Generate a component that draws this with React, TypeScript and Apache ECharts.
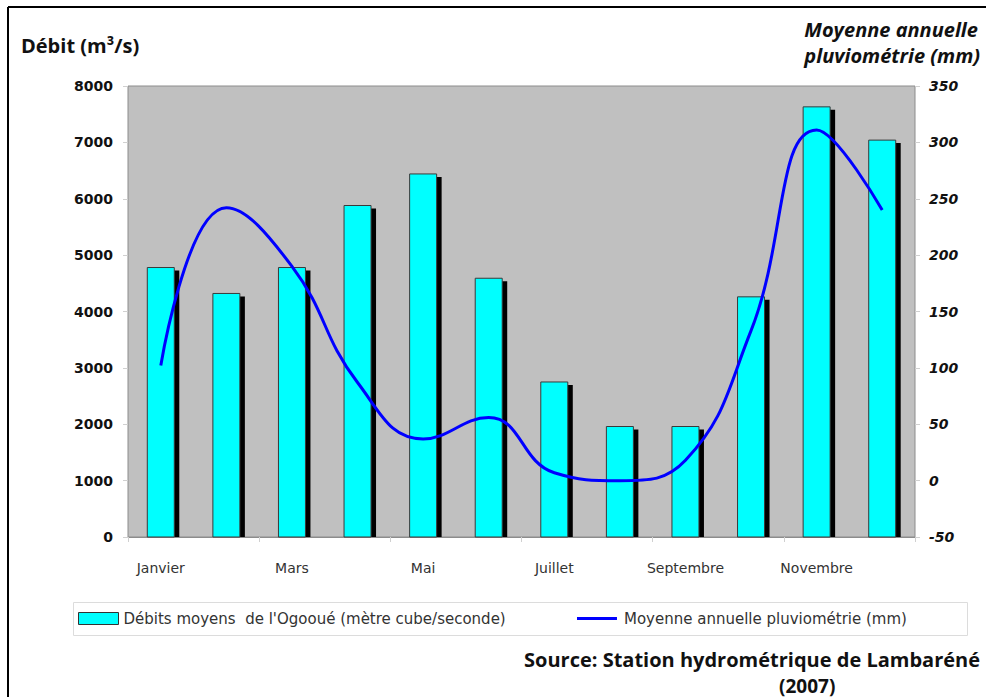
import React, { useEffect, useRef } from "react";
import * as echarts from "echarts";

const months = ["Janvier", "Février", "Mars", "Avril", "Mai", "Juin", "Juillet", "Août", "Septembre", "Octobre", "Novembre", "Décembre"];
const debits = [4780, 4320, 4780, 5880, 6440, 4590, 2750, 1960, 1960, 4260, 7630, 7040];
const pluvio = [102, 242, 190, 87, 37, 56, 7, 0, 18, 133, 311, 240];
const barName = "Débits moyens  de l'Ogooué (mètre cube/seconde)";
const lineName = "Moyenne annuelle pluviométrie (mm)";

export default function App() {
  const ref = useRef<HTMLDivElement>(null);
  useEffect(() => {
    const chart = echarts.init(ref.current!, undefined, { renderer: "svg" });
    const legendText = { fontFamily: "'DejaVu Sans'", fontSize: 15, color: "#333" };
    chart.setOption({
      animation: false,
      backgroundColor: "#ffffff",
      graphic: [
        { type: "line", shape: { x1: 8, y1: 7, x2: 986, y2: 7 }, style: { stroke: "#000", lineWidth: 2 } },
        { type: "line", shape: { x1: 8, y1: 7, x2: 8, y2: 697 }, style: { stroke: "#000", lineWidth: 2 } },
        { type: "rect", shape: { x: 73.5, y: 602.5, width: 894, height: 33 }, style: { fill: "#fff", stroke: "#dcdcdc", lineWidth: 1 }, z: -1 },
        { type: "text", left: 21, top: 35, style: { text: "Débit (m³/s)", font: "bold 20px 'Open Sans'", fill: "#111" } },
        { type: "text", right: 6, top: 16, style: { text: "Moyenne annuelle\npluviométrie (mm)", font: "italic bold 20px 'Open Sans'", fill: "#111", align: "right", lineHeight: 26 } },
        { type: "text", right: 6, top: 649, style: { text: "Source: Station hydrométrique de Lambaréné", font: "bold 20px 'Open Sans'", fill: "#111" } },
        { type: "text", left: 779, top: 676, style: { text: "(2007)", font: "bold 19px 'Open Sans'", fill: "#111" } },
      ],
      grid: { left: 128, right: 71, top: 86, bottom: 160, show: true, backgroundColor: "#C0C0C0", borderColor: "#8c8c8c", borderWidth: 1 },
      legend: [
        {
          left: 78, top: 611, padding: 0, itemGap: 6, itemWidth: 40, itemHeight: 12,
          textStyle: legendText,
          data: [{ name: barName, icon: "rect", itemStyle: { color: "#00FFFF", borderColor: "#333", borderWidth: 1 } }],
        },
        {
          left: 577, top: 611, padding: 0, itemGap: 6, itemWidth: 44, itemHeight: 12,
          textStyle: legendText,
          data: [{
            name: lineName,
            icon: "path://M0,0L40,0L40,0.01L0,0.01Z M0,4.5L40,4.5L40,7.5L0,7.5Z M0,12L40,12L40,12.01L0,12.01Z",
            itemStyle: { color: "#0000FF" },
          }],
        },
      ],
      xAxis: {
        type: "category", data: months,
        axisLine: { show: true, lineStyle: { color: "#8c8c8c" } },
        axisTick: { show: true, length: 5, lineStyle: { color: "#d0d0d0" } },
        axisLabel: { interval: 1, margin: 24, fontFamily: "'DejaVu Sans'", fontSize: 14, color: "#333" },
      },
      yAxis: [
        {
          type: "value", min: 0, max: 8000, interval: 1000,
          axisLine: { show: false }, splitLine: { show: false },
          axisTick: { show: true, length: 5, lineStyle: { color: "#d0d0d0" } },
          axisLabel: { margin: 15, formatter: (v: number) => String(v), fontFamily: "'DejaVu Sans'", fontWeight: "bold", fontSize: 14, color: "#111" },
        },
        {
          type: "value", min: -50, max: 350, interval: 50,
          axisLine: { show: false }, splitLine: { show: false },
          axisTick: { show: true, length: 5, lineStyle: { color: "#d0d0d0" } },
          axisLabel: { margin: 14, formatter: (v: number) => String(v), fontFamily: "'DejaVu Sans'", fontWeight: "bold", fontStyle: "italic", fontSize: 14, color: "#111" },
        },
      ],
      series: [
        {
          name: barName, type: "custom", yAxisIndex: 0,
          data: debits.map((v, i) => [i, v]),
          encode: { x: 0, y: 1 },
          itemStyle: { color: "#00FFFF", borderColor: "#333", borderWidth: 1 },
          renderItem: (params: any, api: any) => {
            const top = api.coord([api.value(0), api.value(1)]);
            const base = api.coord([api.value(0), 0]);
            const w = 27;
            const h = base[1] - top[1];
            return {
              type: "group",
              children: [
                { type: "rect", shape: { x: top[0] - w / 2 + 5, y: top[1] + 3, width: w, height: h - 3 }, style: { fill: "#000" } },
                { type: "rect", shape: { x: top[0] - w / 2, y: top[1], width: w, height: h }, style: { fill: "#00FFFF", stroke: "#3a3a3a", lineWidth: 1 } },
              ],
            };
          },
        },
        {
          name: lineName, type: "line", data: pluvio, yAxisIndex: 1, smooth: 0.45, symbol: "none",
          lineStyle: { color: "#0000FF", width: 3 }, itemStyle: { color: "#0000FF" },
        },
      ],
    });
    return () => chart.dispose();
  }, []);
  return <div ref={ref} style={{ position: "absolute", left: 0, top: 0, width: 986, height: 697 }} />;
}
